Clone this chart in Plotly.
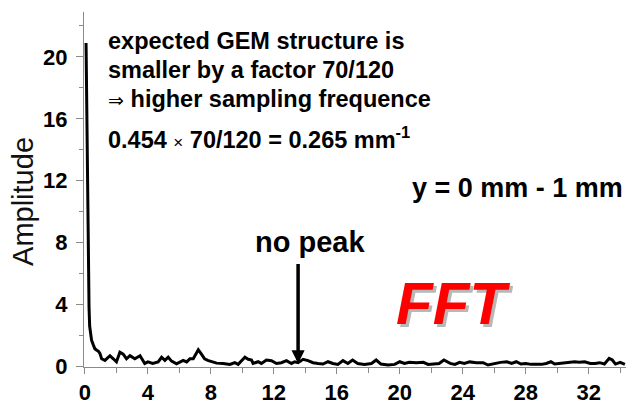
import plotly.graph_objects as go

# FFT amplitude spectrum, spatial frequency in mm^-1
freq = [0.07, 0.10, 0.13, 0.16, 0.19, 0.22, 0.26, 0.30, 0.35, 0.42, 0.53, 0.63, 0.75, 0.85, 0.95,
        1.06, 1.27, 1.59, 1.80, 2.00, 2.22, 2.43, 2.64, 2.86, 3.17, 3.50, 3.80, 4.00, 4.30, 4.65,
        4.87, 5.08, 5.29, 5.50, 5.82, 6.03, 6.24, 6.46, 6.67, 6.88, 7.09, 7.20, 7.40, 7.60, 7.80,
        8.05, 8.36, 8.78, 9.21, 9.52, 9.73, 9.95, 10.16, 10.37, 10.58, 10.68, 11.00, 11.21, 11.53,
        11.85, 12.17, 12.48, 12.80, 13.12, 13.33, 13.54, 13.86, 14.17, 14.49, 14.81, 15.12, 15.44,
        15.75, 16.07, 16.39, 16.70, 17.00, 17.33, 17.75, 18.20, 18.50, 18.80, 19.25, 19.68, 20.00,
        20.30, 20.60, 21.05, 21.50, 21.80, 22.20, 22.50, 22.80, 23.20, 23.50, 23.80, 24.10, 24.44,
        24.87, 25.30, 25.60, 26.00, 26.40, 26.80, 27.10, 27.40, 27.70, 28.00, 28.35, 28.70, 29.00,
        29.30, 29.60, 29.84, 30.20, 30.50, 30.80, 31.10, 31.40, 31.75, 32.10, 32.40, 32.70, 33.00,
        33.30, 33.50, 33.70, 34.00, 34.30]
amplitude = [20.9, 18.0, 14.5, 11.5, 8.5, 5.8, 3.8, 2.6, 2.0, 1.7, 1.4, 1.15, 1.05, 1.0, 0.85,
             0.5, 0.4, 0.7, 0.5, 0.3, 0.93, 0.8, 0.5, 0.7, 0.5, 0.7, 0.2, 0.3, 0.2, 0.3,
             0.6, 0.4, 0.6, 0.35, 0.17, 0.3, 0.4, 0.3, 0.5, 0.5, 0.93, 1.08, 0.8, 0.5, 0.4,
             0.3, 0.22, 0.2, 0.14, 0.25, 0.14, 0.38, 0.6, 0.47, 0.42, 0.2, 0.31, 0.2, 0.42,
             0.38, 0.2, 0.25, 0.38, 0.2, 0.31, 0.25, 0.47, 0.38, 0.25, 0.2, 0.16, 0.31,
             0.2, 0.14, 0.38, 0.2, 0.42, 0.2, 0.14, 0.2, 0.42, 0.16, 0.1, 0.14, 0.31,
             0.2, 0.27, 0.25, 0.27, 0.14, 0.16, 0.2, 0.42, 0.2, 0.14, 0.27, 0.2, 0.3,
             0.25, 0.25, 0.1, 0.2, 0.27, 0.31, 0.2, 0.31, 0.16, 0.2, 0.14, 0.14, 0.14,
             0.2, 0.31, 0.16, 0.2, 0.2, 0.27, 0.31, 0.27, 0.31, 0.2, 0.2, 0.25, 0.16,
             0.53, 0.42, 0.16, 0.27, 0.14]

x_range = [-0.06, 34.37]
y_range = [-0.03, 22.9]
y_ticks = [0, 4, 8, 12, 16, 20]
x_ticks = [0, 4, 8, 12, 16, 20, 24, 28, 32]
no_peak_freq = 13.54

FONT = "Liberation Sans, Arial, sans-serif"
AXIS_GRAY = "#8a8a8a"

fig = go.Figure()
fig.add_trace(go.Scatter(x=freq, y=amplitude, mode="lines",
                         line=dict(color="black", width=3), showlegend=False,
                         hoverinfo="skip"))

tickfont = dict(family=FONT, size=22, color="black", weight="bold")

fig.update_layout(
    width=636, height=405,
    margin=dict(l=84, r=10, t=12, b=38),
    paper_bgcolor="white", plot_bgcolor="white",
    xaxis=dict(range=x_range, tickvals=x_ticks, ticks="outside", ticklen=6,
               tickcolor=AXIS_GRAY, showline=True, linecolor=AXIS_GRAY, linewidth=1,
               showgrid=False, zeroline=False, tickfont=tickfont, ticklabelstandoff=0,
               automargin=False,
               minor=dict(dtick=2, tick0=0, ticks="outside", ticklen=5, tickcolor=AXIS_GRAY)),
    xaxis2=dict(range=x_range, overlaying="x", side="top", anchor="y",
                showline=True, linecolor=AXIS_GRAY, linewidth=1, showgrid=False,
                zeroline=False, ticks="inside", tickvals=x_ticks, ticklen=8,
                tickcolor=AXIS_GRAY, showticklabels=False, automargin=False,
                minor=dict(dtick=2, tick0=0, ticks="inside", ticklen=5, tickcolor=AXIS_GRAY)),
    yaxis=dict(range=y_range, tickvals=y_ticks, ticks="outside", ticklen=7,
               tickcolor=AXIS_GRAY, showline=True, linecolor=AXIS_GRAY, linewidth=1,
               showgrid=False, zeroline=False, tickfont=tickfont, ticklabelstandoff=4,
               automargin=False,
               minor=dict(dtick=2, tick0=0, ticks="outside", ticklen=4, tickcolor=AXIS_GRAY)),
)

# y-axis title, placed a little below the plot's vertical centre
fig.add_annotation(xref="paper", yref="paper", x=-0.1125, y=0.465, text="Amplitude",
                   textangle=-90, showarrow=False, xanchor="center", yanchor="middle",
                   font=dict(family=FONT, size=29, color="#111"))

bold = dict(family=FONT, size=23.5, color="black", weight="bold")
notes = [
    ("expected GEM structure is", 21.0),
    ("smaller by a factor 70/120", 19.13),
    ("<span style='font-weight:normal;font-size:19px'>\u21d2</span> higher sampling frequence", 17.25),
    ("0.454 <span style='font-weight:normal;font-size:17px'>\u00d7</span> 70/120 = 0.265 mm<sup>-1</sup>", 14.75),
]
for text, yv in notes:
    fig.add_annotation(x=1.33, y=yv, text=text, showarrow=False, xanchor="left",
                       yanchor="middle", font=bold)

fig.add_annotation(x=34.29, y=11.55, text="y = 0 mm - 1 mm", showarrow=False,
                   xanchor="right", yanchor="middle",
                   font=dict(family=FONT, size=27, color="black", weight="bold"))

fig.add_annotation(x=14.29, y=8.05, text="no peak", showarrow=False,
                   xanchor="center", yanchor="middle",
                   font=dict(family=FONT, size=29, color="black", weight="bold"))

# arrow pointing at the expected peak position
fig.add_annotation(x=no_peak_freq, y=0.2, ax=0, ay=-101, text="", showarrow=True,
                   arrowhead=2, arrowsize=0.75, arrowwidth=3.5, arrowcolor="black",
                   standoff=0, startstandoff=0)

# red FFT label with soft gray drop shadow
fft_font = dict(family=FONT, size=60, weight="bold", style="italic")
fig.add_annotation(x=23.37, y=4.08, text="FFT", showarrow=False, xshift=3, yshift=-3,
                   font=dict(color="#b8b8b8", **fft_font))
fig.add_annotation(x=23.37, y=4.08, text="FFT", showarrow=False,
                   font=dict(color="#ff0000", **fft_font))

fig.write_html("out.html")
